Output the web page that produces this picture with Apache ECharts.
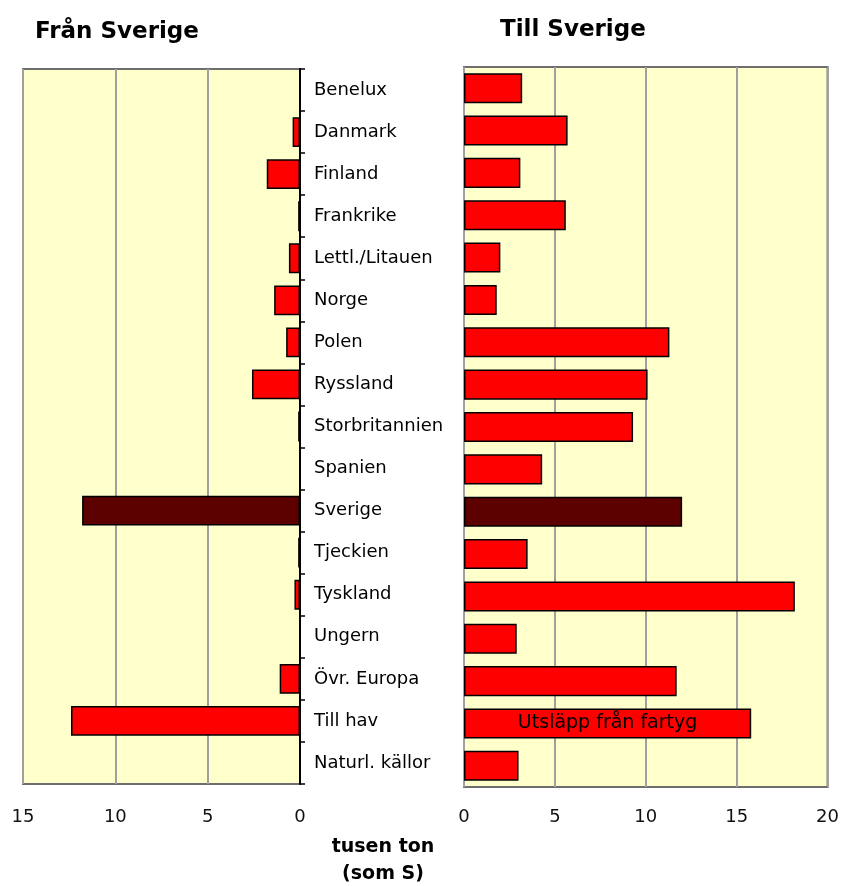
<!DOCTYPE html>
<html>
<head>
<meta charset="utf-8">
<script src="https://cdn.jsdelivr.net/npm/echarts@6/dist/echarts.min.js"></script>
<style>
  html, body { margin: 0; padding: 0; background: #ffffff; }
  #chart { width: 842px; height: 886px; }
</style>
</head>
<body>
<div id="chart"></div>
<script>
// Regions, top to bottom
const categories = ['Benelux', 'Danmark', 'Finland', 'Frankrike', 'Lettl./Litauen', 'Norge', 'Polen',
  'Ryssland', 'Storbritannien', 'Spanien', 'Sverige', 'Tjeckien', 'Tyskland', 'Ungern',
  'Övr. Europa', 'Till hav', 'Naturl. källor'];

// Sulphur deposition, thousand tonnes (as S)
const fromSweden = [0, 0.4, 1.8, 0.1, 0.6, 1.4, 0.75, 2.6, 0.1, 0, 11.8, 0.1, 0.3, 0, 1.1, 12.4, 0];
const toSweden = [3.2, 5.7, 3.1, 5.6, 2.0, 1.8, 11.3, 10.1, 9.3, 4.3, 12.0, 3.5, 18.2, 2.9, 11.7, 15.8, 3.0];

const fromTicks = [0, 5, 10, 15];
const toTicks = [0, 5, 10, 15, 20];

const barNotes = { 'Till hav': 'Utsläpp från fartyg' };
const homeRegion = 'Sverige';

const FONT = 'DejaVu Sans';
const RED = '#ff0000';
const DARK = '#5c0000';

function toItems(values) {
  return values.map((v, i) => {
    const name = categories[i];
    return { value: v, itemStyle: { color: name === homeRegion ? DARK : RED } };
  });
}

const toItemsRight = toItems(toSweden).map((item, i) => {
  const note = barNotes[categories[i]];
  if (note) {
    item.label = {
      show: true, position: 'inside', formatter: note,
      color: '#000', fontFamily: FONT, fontSize: 19, padding: [8, 0, 0, 0]
    };
  }
  return item;
});

const chart = echarts.init(document.getElementById('chart'), null, { renderer: 'canvas' });

const gridStyle = { show: true, backgroundColor: '#ffffcc', borderColor: '#6e6e6e', borderWidth: 2 };

chart.setOption({
  animation: false,
  backgroundColor: '#ffffff',
  grid: [
    Object.assign({ left: 23, right: 542, top: 69, bottom: 102 }, gridStyle),
    Object.assign({ left: 464, right: 10, top: 67, bottom: 99 }, gridStyle)
  ],
  xAxis: [
    {
      gridIndex: 0, type: 'value', inverse: true,
      min: fromTicks[0], max: fromTicks[fromTicks.length - 1], interval: 5,
      axisLine: { show: false }, axisTick: { show: false },
      splitLine: { show: true, lineStyle: { color: '#a0a0a0', width: 2 } },
      axisLabel: { color: '#111', fontFamily: FONT, fontSize: 18, margin: 24 }
    },
    {
      gridIndex: 1, type: 'value',
      min: toTicks[0], max: toTicks[toTicks.length - 1], interval: 5,
      axisLine: { show: false }, axisTick: { show: false },
      splitLine: { show: true, lineStyle: { color: '#a0a0a0', width: 2 } },
      axisLabel: { color: '#111', fontFamily: FONT, fontSize: 18, margin: 21 }
    }
  ],
  yAxis: [
    {
      gridIndex: 0, type: 'category', data: categories, inverse: true, position: 'right',
      axisLine: { show: true, lineStyle: { color: '#000', width: 2 } },
      axisTick: { show: true, inside: false, length: 5, lineStyle: { color: '#000', width: 1.5 } },
      axisLabel: { color: '#000', fontFamily: FONT, fontSize: 18, margin: 14, align: 'left', verticalAlign: 'middle', padding: [8, 0, 0, 0] },
      splitLine: { show: false }
    },
    {
      gridIndex: 1, type: 'category', data: categories, inverse: true,
      axisLine: { show: false }, axisTick: { show: false }, axisLabel: { show: false },
      splitLine: { show: false }
    }
  ],
  series: [
    {
      type: 'bar', xAxisIndex: 0, yAxisIndex: 0, data: toItems(fromSweden),
      barCategoryGap: '29%',
      itemStyle: { borderColor: '#000', borderWidth: 1.5 }
    },
    {
      type: 'bar', xAxisIndex: 1, yAxisIndex: 1, data: toItemsRight,
      barCategoryGap: '29%',
      itemStyle: { borderColor: '#000', borderWidth: 1.5 }
    }
  ],
  graphic: [
    { type: 'text', left: 35, top: 21, style: { text: 'Från Sverige', fontFamily: FONT, fontSize: 23, fontWeight: 'bold', fill: '#000' } },
    { type: 'text', left: 500, top: 19, style: { text: 'Till Sverige', fontFamily: FONT, fontSize: 23, fontWeight: 'bold', fill: '#000' } },
    { type: 'text', x: 383, y: 847, style: { text: 'tusen ton', fontFamily: FONT, fontSize: 19, fontWeight: 'bold', fill: '#000', align: 'center', verticalAlign: 'middle' } },
    { type: 'text', x: 383, y: 874, style: { text: '(som S)', fontFamily: FONT, fontSize: 19, fontWeight: 'bold', fill: '#000', align: 'center', verticalAlign: 'middle' } }
  ]
});
</script>
</body>
</html>
